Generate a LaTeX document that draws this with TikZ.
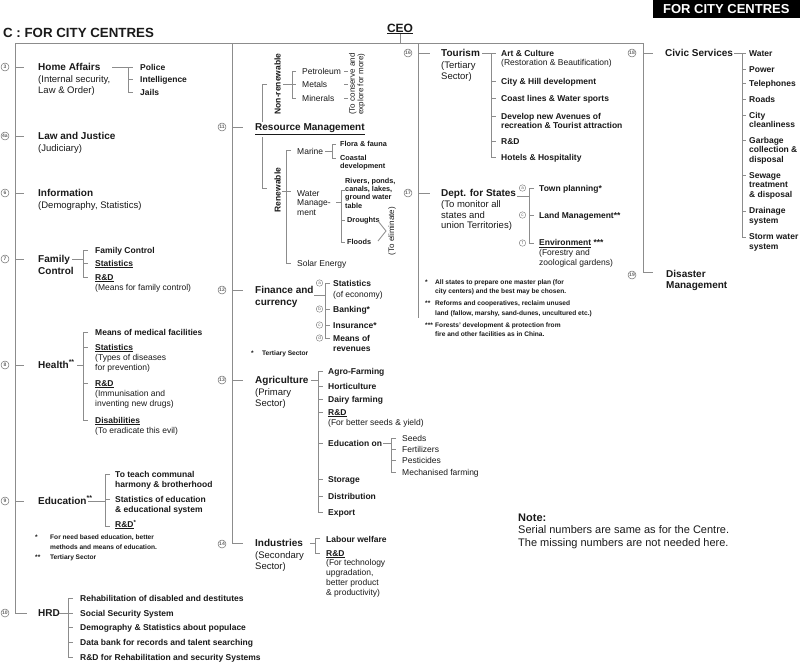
\documentclass[tikz,border=0pt]{standalone}
\usepackage{fontspec}
\setmainfont{Liberation Sans}
\definecolor{ln}{HTML}{8C8C8C}
\definecolor{tx}{HTML}{1A1A1A}
\definecolor{nm}{HTML}{666666}
\newcommand\hb[1]{{\bfseries\fontsize{10}{11.5}\selectfont #1}}
\newcommand\ml[1]{\begin{tabular}[t]{@{}l@{}}#1\end{tabular}}
\begin{document}
\begin{tikzpicture}[x=1pt,y=-1pt,
  link/.style={draw=ln,line width=0.8pt},
  hd/.style={anchor=base west,inner sep=0pt,text=tx,font=\fontsize{9.5}{11.5}\selectfont},
  it/.style={anchor=base west,inner sep=0pt,text=tx,font=\bfseries\fontsize{8.5}{10.5}\selectfont},
  rg/.style={anchor=base west,inner sep=0pt,text=tx,font=\fontsize{8.5}{10}\selectfont},
  sb/.style={anchor=base west,inner sep=0pt,text=tx,font=\bfseries\fontsize{7.3}{8.2}\selectfont},
  sm/.style={anchor=base west,inner sep=0pt,text=tx,font=\bfseries\fontsize{6.6}{9.5}\selectfont},
  num/.style={circle,draw=nm,line width=0.45pt,inner sep=0pt,minimum size=8pt,text=nm,font=\bfseries\fontsize{5}{5}\selectfont},
  let/.style={circle,draw=nm,line width=0.35pt,inner sep=0pt,minimum size=6.5pt,text=nm,font=\fontsize{4.5}{4.5}\selectfont}
]
\useasboundingbox[fill=white] (0,0) rectangle (800,662);

% ---------- header ----------
\node[anchor=base west,inner sep=0pt,text=tx,font=\bfseries\fontsize{13.3}{15}\selectfont] (title) at (3,37) {C : FOR CITY CENTRES};
\node[fill=black,text=white,font=\bfseries\fontsize{13}{15}\selectfont,minimum width=147pt,minimum height=18pt,anchor=north east,inner sep=0pt] (box) at (800,0) {FOR CITY CENTRES};
\node[inner sep=0pt,text=tx,font=\bfseries\fontsize{12}{14}\selectfont] (ceo) at (400,29) {\underline{CEO}};
\coordinate (top) at (400,43);
\draw[link] (ceo.south) -- (top);
\draw[link] (15,43) -- (643,43);

% ---------- column 1 ----------
\draw[link] (15,43) -- (15,613) -- (27,613);
\foreach \yy in {67,136,193,259,365,501} \draw[link] (15,\yy) -- (24,\yy);
\node[num] (n3) at (5,67) {3};
\node[num] (n4a) at (5,136) {4a};
\node[num] (n6) at (5,193) {6};
\node[num] (n7) at (5,259) {7};
\node[num] (n8) at (5,365) {8};
\node[num] (n9) at (5,501) {9};
\node[num] (n10) at (5,613) {10};

\node[hd] (ha) at (38,70.5) {\ml{\hb{Home Affairs}\\(Internal security,\\Law \& Order)}};
\node[it] (pol) at (140,70) {Police};
\node[it] (int) at (140,82.5) {Intelligence};
\node[it] (jai) at (140,95) {Jails};
\draw[link] (112,67) -- (133,67) (128,67) -- (128,92) -- (133,92) (128,79.5) -- (133,79.5);

\node[hd] (lj) at (38,139.5) {\ml{\hb{Law and Justice}\\(Judiciary)}};
\node[hd] (inf) at (38,196.5) {\ml{\hb{Information}\\(Demography, Statistics)}};

\node[hd] (fc) at (38,262.5) {\ml{\hb{Family}\\\hb{Control}}};
\node[it] (fc1) at (95,253) {Family Control};
\node[it] (fc2) at (95,266) {\underline{Statistics}};
\node[rg] (fc3) at (95,280) {\ml{\textbf{\underline{R\&D}}\\(Means for family control)}};
\draw[link] (72,259) -- (83,259) (88,250) -- (83,250) -- (83,277) -- (88,277) (83,263.5) -- (88,263.5);

\node[hd] (hl) at (38,368.5) {\hb{Health\textsuperscript{**}}};
\node[it] (h1) at (95,335) {Means of medical facilities};
\node[rg] (h2) at (95,350) {\ml{\textbf{\underline{Statistics}}\\(Types of diseases\\for prevention)}};
\node[rg] (h3) at (95,386) {\ml{\textbf{\underline{R\&D}}\\(Immunisation and\\inventing new drugs)}};
\node[rg] (h4) at (95,423) {\ml{\textbf{\underline{Disabilities}}\\(To eradicate this evil)}};
\draw[link] (77,365) -- (83,365) (88,332) -- (83,332) -- (83,420) -- (88,420) (83,347) -- (88,347) (83,383) -- (88,383);

\node[hd] (ed) at (38,504.5) {\hb{Education\textsuperscript{**}}};
\node[it] (e1) at (115,477) {\ml{To teach communal\\harmony \& brotherhood}};
\node[it] (e2) at (115,502) {\ml{Statistics of education\\\& educational system}};
\node[it] (e3) at (115,527) {\underline{R\&D}\textsuperscript{*}};
\draw[link] (88,501) -- (105,501) (110,474) -- (105,474) -- (105,526) -- (110,526) (105,499) -- (110,499);
\node[sm] (ef1s) at (35,539.5) {*};
\node[sm] (ef1) at (50,539.5) {\ml{For need based education, better\\methods and means of education.}};
\node[sm] (ef2s) at (35,559.5) {**};
\node[sm] (ef2) at (50,559.5) {Tertiary Sector};

\node[hd] (hrd) at (38,616.5) {\hb{HRD}};
\node[it] (r1) at (80,601) {Rehabilitation of disabled and destitutes};
\node[it] (r2) at (80,616) {Social Security System};
\node[it] (r3) at (80,630.5) {Demography \& Statistics about populace};
\node[it] (r4) at (80,645.5) {Data bank for records and talent searching};
\node[it] (r5) at (80,660) {R\&D for Rehabilitation and security Systems};
\draw[link] (59,613) -- (73,613) (73,598) -- (68,598) -- (68,657) -- (73,657) (68,627.5) -- (73,627.5) (68,642.5) -- (73,642.5);

% ---------- column 2 ----------
\draw[link] (232,43) -- (232,543) -- (243,543);
\foreach \yy in {127,290,380} \draw[link] (232,\yy) -- (243,\yy);
\node[num] (n11) at (222,127) {11};
\node[num] (n12) at (222,290) {12};
\node[num] (n13) at (222,380) {13};
\node[num] (n14) at (222,544) {14};

\node[anchor=base west,inner sep=0pt,text=tx,font=\bfseries\fontsize{10}{12}\selectfont] (rm) at (255,130.5) {\underline{Resource Management}};
\draw[link] (267,84) -- (262,84) -- (262,122) (262,137) -- (262,188) -- (267,188);
\node[rotate=90,inner sep=0pt,text=tx,font=\bfseries\fontsize{8.5}{10}\selectfont] (nr) at (277.5,84) {Non-renewable};
\node[rotate=90,inner sep=0pt,text=tx,font=\bfseries\fontsize{8.5}{10}\selectfont] (rn) at (277.5,190) {Renewable};
\draw[link] (283,84) -- (296,84) (296,71) -- (292,71) -- (292,98) -- (296,98);
\node[rg] (pet) at (302,74) {Petroleum};
\node[rg] (met) at (302,87) {Metals};
\node[rg] (min) at (302,101) {Minerals};
\draw[link] (344,71) -- (348,71) (344,84) -- (348,84) (344,98) -- (348,98);
\node[rotate=90,inner sep=0pt,align=center,text=tx,font=\fontsize{8}{8.5}\selectfont] (cons) at (357,84) {(To conserve and\\explore for more)};

\draw[link] (291,150) -- (286,150) -- (286,263) -- (291,263) (282,191) -- (291,191);
\node[rg] (mar) at (297,154) {Marine};
\draw[link] (325,151) -- (332,151) (336,144) -- (332,144) -- (332,158) -- (336,158);
\node[sb] (ff) at (340,146.5) {Flora \& fauna};
\node[sb] (cd) at (340,160) {\ml{Coastal\\development}};
\node[rg,font=\fontsize{8.5}{9.5}\selectfont] (wm) at (297,196) {\ml{Water\\Manage-\\ment}};
\draw[link] (336,202) -- (341,202) (345,190) -- (341,190) -- (341,242) -- (345,242) (341,220) -- (345,220);
\node[sb] (riv) at (345,183.5) {\ml{Rivers, ponds,\\canals, lakes,\\ground water\\table}};
\node[sb] (dr) at (347,222.5) {Droughts};
\node[sb] (fl) at (347,244.5) {Floods};
\draw[link] (378,221) -- (386,231) -- (378,241);
\node[rotate=90,inner sep=0pt,text=tx,font=\fontsize{8}{9}\selectfont] (elim) at (392,231) {(To eliminate)};
\node[rg] (sol) at (297,266) {Solar Energy};

\node[hd] (fin) at (255,293.5) {\ml{\hb{Finance and}\\\hb{currency}}};
\draw[link] (314,295) -- (325,295) (330,283) -- (325,283) -- (325,338) -- (330,338) (325,309) -- (330,309) (325,325) -- (330,325);
\node[let] (ca) at (319.5,283) {a};
\node[let] (cb) at (319.5,309) {b};
\node[let] (cc) at (319.5,325) {c};
\node[let] (cdd) at (319.5,338) {d};
\node[rg,font=\fontsize{8.5}{11}\selectfont] (f1) at (333,286) {\ml{\textbf{Statistics}\\(of economy)}};
\node[it] (f2) at (333,312) {Banking*};
\node[it] (f3) at (333,328) {Insurance*};
\node[it,font=\bfseries\fontsize{8.5}{10}\selectfont] (f4) at (333,341) {\ml{Means of\\revenues}};
\node[sm] (ts1) at (251,355.5) {*};
\node[sm] (ts2) at (262,355.5) {Tertiary Sector};

\node[hd] (ag) at (255,383.5) {\ml{\hb{Agriculture}\\(Primary\\Sector)}};
\draw[link] (311,380) -- (318,380) (323,371) -- (318,371) -- (318,512) -- (323,512);
\foreach \yy in {386,399,412,443,479,496} \draw[link] (318,\yy) -- (323,\yy);
\node[it] (a1) at (328,374) {Agro-Farming};
\node[it] (a2) at (328,389) {Horticulture};
\node[it] (a3) at (328,402) {Dairy farming};
\node[rg] (a4) at (328,415) {\ml{\textbf{\underline{R\&D}}\\(For better seeds \& yield)}};
\node[it] (a5) at (328,446) {Education on};
\node[it] (a6) at (328,482) {Storage};
\node[it] (a7) at (328,499) {Distribution};
\node[it] (a8) at (328,515) {Export};
\draw[link] (383,443) -- (391,443) (396,438) -- (391,438) -- (391,472) -- (396,472) (391,449) -- (396,449) (391,460) -- (396,460);
\node[rg] (s1) at (402,441) {Seeds};
\node[rg] (s2) at (402,452) {Fertilizers};
\node[rg] (s3) at (402,463) {Pesticides};
\node[rg] (s4) at (402,475) {Mechanised farming};

\node[hd] (ind) at (255,546.5) {\ml{\hb{Industries}\\(Secondary\\Sector)}};
\draw[link] (310,543) -- (315,543) (320,538) -- (315,538) -- (315,553) -- (320,553);
\node[it] (i1) at (326,542) {Labour welfare};
\node[rg,font=\fontsize{8.5}{9.8}\selectfont] (i2) at (326,556) {\ml{\textbf{\underline{R\&D}}\\(For technology\\upgradation,\\better product\\\& productivity)}};

% ---------- column 3 ----------
\draw[link] (418,43) -- (418,318);
\foreach \yy in {53,193} \draw[link] (418,\yy) -- (430,\yy);
\node[num] (n16) at (408,53) {16};
\node[num] (n17) at (408,193) {17};

\node[hd] (tou) at (441,56.5) {\ml{\hb{Tourism}\\(Tertiary\\Sector)}};
\draw[link] (482,53) -- (496,53) (491,53) -- (491,157) -- (496,157);
\foreach \yy in {81,98,116,141.5} \draw[link] (491,\yy) -- (496,\yy);
\node[rg,font=\fontsize{8.5}{9.3}\selectfont] (t1) at (501,56) {\ml{\textbf{Art \& Culture}\\(Restoration \& Beautification)}};
\node[it] (t2) at (501,84) {City \& Hill development};
\node[it] (t3) at (501,101) {Coast lines \& Water sports};
\node[it,font=\bfseries\fontsize{8.5}{9.3}\selectfont] (t4) at (501,119) {\ml{Develop new Avenues of\\recreation \& Tourist attraction}};
\node[it] (t5) at (501,144.5) {R\&D};
\node[it] (t6) at (501,160) {Hotels \& Hospitality};

\node[hd,font=\fontsize{9.5}{10.8}\selectfont] (dep) at (441,196.5) {\ml{\hb{Dept. for States}\\(To monitor all\\states and\\union Territories)}};
\draw[link] (517,196) -- (529,196) (534,188) -- (529,188) -- (529,243) -- (534,243) (529,215) -- (534,215);
\node[let] (da) at (522.5,188) {a};
\node[let] (dc) at (522.5,215) {c};
\node[let] (df) at (522.5,243) {f};
\node[it] (d1) at (539,191) {Town planning*};
\node[it] (d2) at (539,218) {Land Management**};
\node[rg] (d3) at (539,245.5) {\ml{\textbf{\underline{Environment} ***}\\(Forestry and\\zoological gardens)}};

\node[sm] (fn1s) at (425,284) {*};
\node[sm,font=\bfseries\fontsize{6.6}{9}\selectfont] (fn1) at (435,284) {\ml{All states to prepare one master plan (for\\city centers) and the best may be chosen.}};
\node[sm] (fn2s) at (425,305.5) {**};
\node[sm] (fn2) at (435,305.5) {\ml{Reforms and cooperatives, reclaim unused\\land (fallow, marshy, sand-dunes, uncultured etc.)}};
\node[sm] (fn3s) at (425,327.5) {***};
\node[sm,font=\bfseries\fontsize{6.6}{9}\selectfont] (fn3) at (435,327.5) {\ml{Forests' development \& protection from\\fire and other facilities as in China.}};

% ---------- column 4 ----------
\draw[link] (643,43) -- (643,272) -- (653,272) (643,53) -- (653,53);
\node[num] (n18) at (632,53) {18};
\node[num] (n19) at (632,275) {19};
\node[hd] (civ) at (665,56.5) {\hb{Civic Services}};
\draw[link] (734,53) -- (746,53) (742,53) -- (742,237) -- (746,237);
\foreach \yy in {69,83,99,115,140,175,211} \draw[link] (742,\yy) -- (746,\yy);
\node[it] (c1) at (749,56) {Water};
\node[it] (c2) at (749,72) {Power};
\node[it] (c3) at (749,86.3) {Telephones};
\node[it] (c4) at (749,102) {Roads};
\node[it,font=\bfseries\fontsize{8.5}{9.3}\selectfont] (c5) at (749,118) {\ml{City\\cleanliness}};
\node[it,font=\bfseries\fontsize{8.5}{9.5}\selectfont] (c6) at (749,143) {\ml{Garbage\\collection \&\\disposal}};
\node[it,font=\bfseries\fontsize{8.5}{9.5}\selectfont] (c7) at (749,178) {\ml{Sewage\\treatment\\\& disposal}};
\node[it,font=\bfseries\fontsize{8.5}{9.3}\selectfont] (c8) at (749,213.7) {\ml{Drainage\\system}};
\node[it,font=\bfseries\fontsize{8.5}{10}\selectfont] (c9) at (749,239.7) {\ml{Storm water\\system}};
\node[hd,font=\fontsize{9.5}{11}\selectfont] (dis) at (666,277.5) {\ml{\hb{Disaster}\\\hb{Management}}};

% ---------- note ----------
\node[anchor=base west,inner sep=0pt,text=tx,font=\fontsize{11}{12.5}\selectfont] (note) at (518,521) {\ml{\textbf{Note:}\\Serial numbers are same as for the Centre.\\The missing numbers are not needed here.}};
\end{tikzpicture}
\end{document}
